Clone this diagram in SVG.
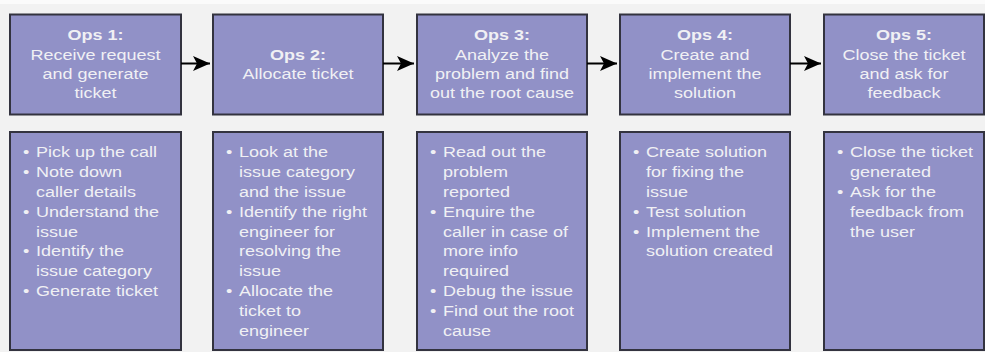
<svg xmlns="http://www.w3.org/2000/svg" width="985" height="352" viewBox="0 0 985 352">
<style>
.box{fill:#9191c7;stroke:#33333f;stroke-width:2}
.t{font-family:"Liberation Sans",Arial,sans-serif;font-size:15px;fill:#f0f0f4}
.c{text-anchor:middle}
.b{font-weight:bold}
.arrow{stroke:#000;stroke-width:2;fill:none;marker-end:url(#ah)}
</style>
<defs>
<marker id="ah" markerUnits="userSpaceOnUse" markerWidth="18" markerHeight="16" viewBox="0 0 17 16" refX="17" refY="8" orient="auto">
<path d="M0,0.5 L17,8 L0,15.5 L4,8 Z" fill="#000"/>
</marker>
</defs>
<rect x="0" y="0" width="985" height="352" fill="#f2f2f2"/>
<rect x="0" y="0" width="985" height="4" fill="#fbfbfb"/>

<g id="ops1">
<rect class="box" x="10" y="14.5" width="171" height="100"/>
<g transform="translate(95.5,0) scale(1.2,1)">
<text class="t c"><tspan class="b" x="0" y="40.5">Ops 1:</tspan><tspan x="0" y="59.7">Receive request</tspan><tspan x="0" y="78.9">and generate</tspan><tspan x="0" y="98.1">ticket</tspan></text>
</g>
</g>
<g id="ops2">
<rect class="box" x="213" y="14.5" width="170" height="100"/>
<g transform="translate(298,0) scale(1.2,1)">
<text class="t c"><tspan class="b" x="0" y="60">Ops 2:</tspan><tspan x="0" y="79.2">Allocate ticket</tspan></text>
</g>
</g>
<g id="ops3">
<rect class="box" x="417" y="14.5" width="170" height="100"/>
<g transform="translate(502,0) scale(1.2,1)">
<text class="t c"><tspan class="b" x="0" y="40.5">Ops 3:</tspan><tspan x="0" y="59.7">Analyze the</tspan><tspan x="0" y="78.9">problem and find</tspan><tspan x="0" y="98.1">out the root cause</tspan></text>
</g>
</g>
<g id="ops4">
<rect class="box" x="620" y="14.5" width="170" height="100"/>
<g transform="translate(705,0) scale(1.2,1)">
<text class="t c"><tspan class="b" x="0" y="40.5">Ops 4:</tspan><tspan x="0" y="59.7">Create and</tspan><tspan x="0" y="78.9">implement the</tspan><tspan x="0" y="98.1">solution</tspan></text>
</g>
</g>
<g id="ops5">
<rect class="box" x="824" y="14.5" width="160" height="100"/>
<g transform="translate(904,0) scale(1.2,1)">
<text class="t c"><tspan class="b" x="0" y="40.5">Ops 5:</tspan><tspan x="0" y="59.7">Close the ticket</tspan><tspan x="0" y="78.9">and ask for</tspan><tspan x="0" y="98.1">feedback</tspan></text>
</g>
</g>

<g id="detail1">
<rect class="box" x="10" y="132" width="171" height="218"/>
<g transform="translate(36,0) scale(1.2,1)">
<text class="t"><tspan x="-10.8" y="157.5">•</tspan><tspan x="-10.8" y="177.3">•</tspan><tspan x="-10.8" y="216.9">•</tspan><tspan x="-10.8" y="256.5">•</tspan><tspan x="-10.8" y="296.1">•</tspan></text>
<text class="t"><tspan x="0" y="157.5">Pick up the call</tspan><tspan x="0" y="177.3">Note down</tspan><tspan x="0" y="197.1">caller details</tspan><tspan x="0" y="216.9">Understand the</tspan><tspan x="0" y="236.7">issue</tspan><tspan x="0" y="256.5">Identify the</tspan><tspan x="0" y="276.3">issue category</tspan><tspan x="0" y="296.1">Generate ticket</tspan></text>
</g>
</g>
<g id="detail2">
<rect class="box" x="213" y="132" width="170" height="218"/>
<g transform="translate(239,0) scale(1.2,1)">
<text class="t"><tspan x="-10.8" y="157.5">•</tspan><tspan x="-10.8" y="216.9">•</tspan><tspan x="-10.8" y="296.1">•</tspan></text>
<text class="t"><tspan x="0" y="157.5">Look at the</tspan><tspan x="0" y="177.3">issue category</tspan><tspan x="0" y="197.1">and the issue</tspan><tspan x="0" y="216.9">Identify the right</tspan><tspan x="0" y="236.7">engineer for</tspan><tspan x="0" y="256.5">resolving the</tspan><tspan x="0" y="276.3">issue</tspan><tspan x="0" y="296.1">Allocate the</tspan><tspan x="0" y="315.9">ticket to</tspan><tspan x="0" y="335.7">engineer</tspan></text>
</g>
</g>
<g id="detail3">
<rect class="box" x="417" y="132" width="170" height="218"/>
<g transform="translate(443,0) scale(1.2,1)">
<text class="t"><tspan x="-10.8" y="157.5">•</tspan><tspan x="-10.8" y="216.9">•</tspan><tspan x="-10.8" y="296.1">•</tspan><tspan x="-10.8" y="315.9">•</tspan></text>
<text class="t"><tspan x="0" y="157.5">Read out the</tspan><tspan x="0" y="177.3">problem</tspan><tspan x="0" y="197.1">reported</tspan><tspan x="0" y="216.9">Enquire the</tspan><tspan x="0" y="236.7">caller in case of</tspan><tspan x="0" y="256.5">more info</tspan><tspan x="0" y="276.3">required</tspan><tspan x="0" y="296.1">Debug the issue</tspan><tspan x="0" y="315.9">Find out the root</tspan><tspan x="0" y="335.7">cause</tspan></text>
</g>
</g>
<g id="detail4">
<rect class="box" x="620" y="132" width="170" height="218"/>
<g transform="translate(646,0) scale(1.2,1)">
<text class="t"><tspan x="-10.8" y="157.5">•</tspan><tspan x="-10.8" y="216.9">•</tspan><tspan x="-10.8" y="236.7">•</tspan></text>
<text class="t"><tspan x="0" y="157.5">Create solution</tspan><tspan x="0" y="177.3">for fixing the</tspan><tspan x="0" y="197.1">issue</tspan><tspan x="0" y="216.9">Test solution</tspan><tspan x="0" y="236.7">Implement the</tspan><tspan x="0" y="256.5">solution created</tspan></text>
</g>
</g>
<g id="detail5">
<rect class="box" x="824" y="132" width="160" height="218"/>
<g transform="translate(850,0) scale(1.2,1)">
<text class="t"><tspan x="-10.8" y="157.5">•</tspan><tspan x="-10.8" y="197.1">•</tspan></text>
<text class="t"><tspan x="0" y="157.5">Close the ticket</tspan><tspan x="0" y="177.3">generated</tspan><tspan x="0" y="197.1">Ask for the</tspan><tspan x="0" y="216.9">feedback from</tspan><tspan x="0" y="236.7">the user</tspan></text>
</g>
</g>

<g id="connectors">
<line class="arrow" x1="181" y1="63.5" x2="210" y2="63.5"/>
<line class="arrow" x1="383" y1="63.5" x2="414" y2="63.5"/>
<line class="arrow" x1="587" y1="63.5" x2="617" y2="63.5"/>
<line class="arrow" x1="790" y1="63.5" x2="821" y2="63.5"/>
</g>
</svg>
